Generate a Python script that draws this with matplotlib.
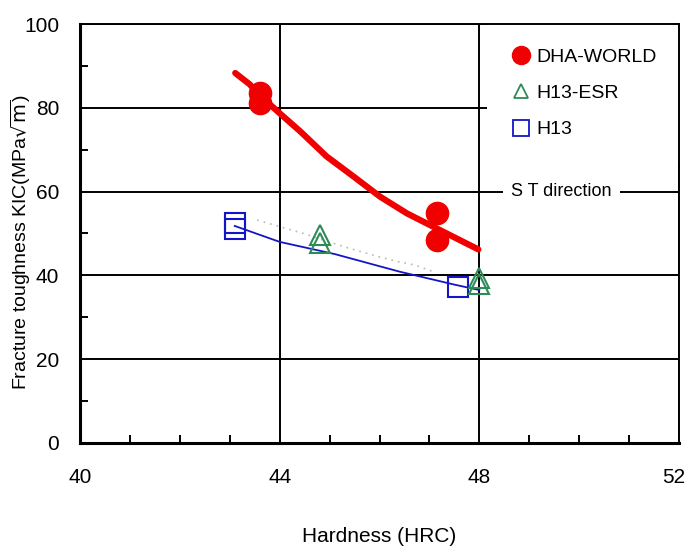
import matplotlib
matplotlib.use('Agg')
import matplotlib.pyplot as plt
import matplotlib.transforms as mtransforms
from matplotlib.lines import Line2D
from matplotlib.ticker import MultipleLocator

plt.rcParams['font.family'] = ['Liberation Sans', 'DejaVu Sans']

# measured points
dha_x = [43.6, 43.6, 47.15, 47.15]
dha_y = [83.6, 81.2, 54.8, 48.4]
esr_x = [44.8, 44.8, 48.0, 48.0]
esr_y = [49.6, 47.8, 39.4, 37.9]
h13_x = [43.1, 43.1, 47.57]
h13_y = [52.6, 51.0, 37.2]

# hand drawn trend lines
dha_line_x = [43.11, 43.4, 43.6, 44.0, 44.41, 44.94, 45.48, 46.01, 46.55, 47.08, 47.48, 47.98]
dha_line_y = [88.3, 85.6, 83.0, 78.7, 74.4, 68.4, 63.6, 58.8, 54.8, 51.6, 49.2, 46.2]
h13_line_x = [43.1, 44.0, 45.1, 46.4, 47.5, 48.0]
h13_line_y = [51.8, 48.0, 45.1, 40.9, 37.8, 36.5]
esr_line_x = [43.55, 44.45, 45.3, 46.0, 46.4, 46.7, 47.1]
esr_line_y = [53.2, 50.1, 46.8, 44.4, 43.2, 42.5, 40.8]

xticks = [40, 44, 48, 52]
yticks = [0, 20, 40, 60, 80, 100]

fig = plt.figure(figsize=(6.88, 5.52), dpi=100)
ax = fig.add_axes([80 / 688, 109 / 552, 599 / 688, 419 / 552])

ax.plot(esr_line_x, esr_line_y, color='#b8b8b8', lw=1.2, ls=(0, (1, 3)), zorder=3)
ax.plot(h13_line_x, h13_line_y, color='#1515c8', lw=1.3, zorder=3)
ax.plot(dha_line_x, dha_line_y, color='#f00000', lw=4.5, solid_capstyle='round', zorder=3)

ax.plot(dha_x, dha_y, 'o', color='#f00000', ms=16, zorder=4)
ax.plot(h13_x, h13_y, 's', mfc='none', mec='#1515c8', mew=1.5, ms=14, zorder=4)
ax.plot(esr_x, esr_y, '^', mfc='none', mec='#2e8b57', mew=1.5, ms=14, zorder=4)

ax.set_xlim(40, 52)
ax.set_ylim(0, 100)
ax.set_xticks(xticks)
ax.set_yticks(yticks)
ax.xaxis.set_minor_locator(MultipleLocator(1))
ax.yaxis.set_minor_locator(MultipleLocator(10))
ax.grid(True, which='major', color='black', lw=1.4)
ax.set_axisbelow(True)
ax.tick_params(which='major', length=0, labelsize=15)
ax.tick_params(axis='x', which='major', pad=18)
ax.tick_params(axis='y', which='major', pad=15)
ax.tick_params(which='minor', direction='in', length=6, width=1.4, color='black')
for side in ['left', 'bottom']:
    ax.spines[side].set_linewidth(2.2)
for side in ['top', 'right']:
    ax.spines[side].set_linewidth(1.4)
for sp in ax.spines.values():
    sp.set_zorder(6)

# last x label sits close to the edge, nudge it left a bit
last = ax.get_xticklabels()[-1]
last.set_transform(last.get_transform() + mtransforms.ScaledTranslation(-5 / 100, 0, fig.dpi_scale_trans))

ax.set_xlabel('Hardness (HRC)', fontsize=15, labelpad=29)
ax.set_ylabel(r'Fracture toughness KIC(MPa$\sqrt{\rm m}$)', fontsize=14)
ax.yaxis.set_label_coords(-0.078, 0.48)

handles = [
    Line2D([], [], ls='none', marker='o', color='#f00000', ms=13),
    Line2D([], [], ls='none', marker='^', mfc='none', mec='#2e8b57', mew=1.3, ms=10),
    Line2D([], [], ls='none', marker='s', mfc='none', mec='#1515c8', mew=1.3, ms=11),
]
labels = ['DHA-WORLD', 'H13-ESR', 'H13']
leg = ax.legend(handles, labels, loc='upper left', bbox_to_anchor=(0.6795, 1.0),
                frameon=True, fancybox=False, edgecolor='white', facecolor='white',
                framealpha=1, fontsize=14, handlelength=1.0, handletextpad=0.27,
                labelspacing=0.96, borderpad=1.25, borderaxespad=0)
leg.set_zorder(5)
leg.get_frame().set_linewidth(0)

ax.text(48.64, 60, 'S T direction', fontsize=13, va='center', ha='left', zorder=5,
        bbox=dict(facecolor='white', edgecolor='none', pad=6))

fig.savefig('out.png', dpi=100)
